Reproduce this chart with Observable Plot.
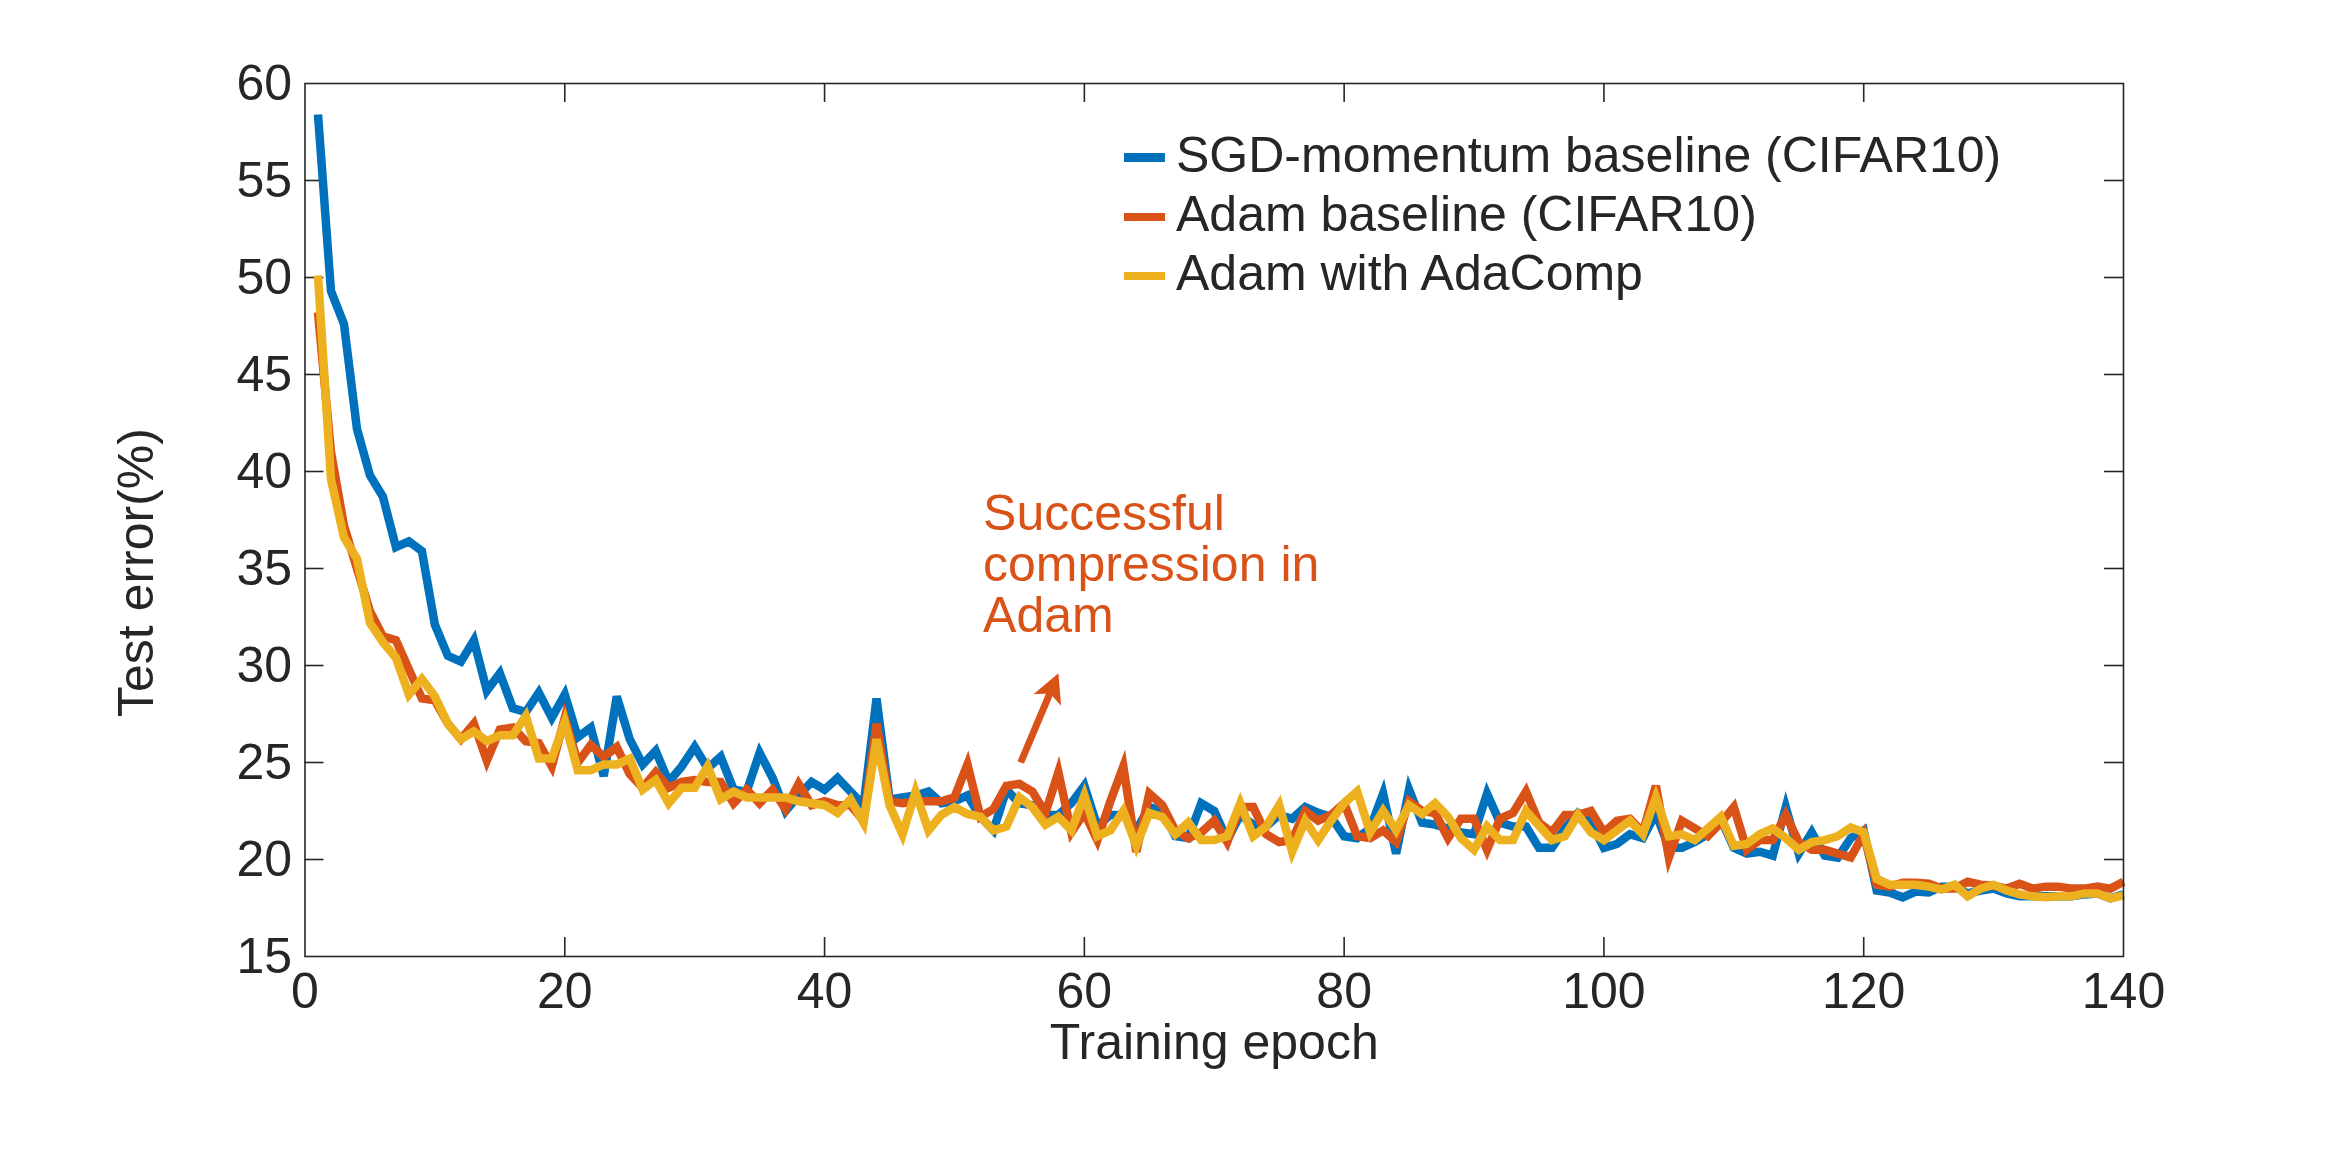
<!DOCTYPE html>
<html>
<head>
<meta charset="utf-8">
<script src="https://cdn.jsdelivr.net/npm/d3@7"></script>
<script src="https://cdn.jsdelivr.net/npm/@observablehq/plot@0.6"></script>
<style>
  body { margin: 0; background: #fff; }
  #wrap { position: relative; width: 2346px; height: 1156px; font-family: "Liberation Sans", Arial, Helvetica, sans-serif; color: #262626; }
  .leg-row { position: absolute; left: 1124px; height: 50px; line-height: 50px; font-size: 50px; white-space: nowrap; }
  .leg-sw { position: absolute; left: 0; width: 41px; height: 8.5px; }
  .leg-tx { position: absolute; left: 52px; top: 0; }
</style>
</head>
<body>
<div id="wrap"></div>
<script>
// ---------- data ----------
const epochs = d3.range(1, 141);

const sgdMomentum = [
  58.4, 49.3, 47.6, 42.2, 39.8, 38.7, 36.1, 36.4, 35.9, 32.1,
  30.5, 30.2, 31.3, 28.7, 29.6, 27.8, 27.6, 28.6, 27.3, 28.5,
  26.3, 26.8, 24.3, 28.4, 26.2, 24.9, 25.6, 24.0, 24.8, 25.8,
  24.7, 25.3, 23.6, 23.5, 25.5, 24.2, 22.5, 23.3, 24.0, 23.6,
  24.2, 23.5, 22.8, 28.3, 23.1, 23.2, 23.3, 23.5, 22.9, 23.0,
  23.3, 22.2, 21.5, 23.6, 22.9, 22.8, 22.3, 22.3, 22.9, 23.8,
  21.7, 22.3, 22.3, 21.5, 22.7, 22.5, 21.2, 21.1, 22.9, 22.5,
  21.0, 22.3, 21.8, 21.7, 22.3, 22.1, 22.7, 22.4, 22.2, 21.2,
  21.1, 21.6, 23.4, 20.3, 23.6, 21.9, 21.8, 21.6, 21.4, 21.3,
  23.4, 21.9, 21.7, 21.7, 20.6, 20.6, 21.6, 22.4, 21.9, 20.6,
  20.8, 21.3, 21.1, 22.4, 20.6, 20.6, 20.9, 21.3, 22.1, 20.6,
  20.3, 20.4, 20.2, 22.7, 20.3, 21.4, 20.2, 20.1, 21.1, 21.5,
  18.4, 18.3, 18.05, 18.35, 18.3, 18.6, 18.6, 18.25, 18.4, 18.5,
  18.25, 18.1, 18.1, 18.1, 18.1, 18.1, 18.2, 18.25, 18.0, 18.2
];

const adamBaseline = [
  48.2, 41.0, 37.2, 35.0, 32.8, 31.5, 31.3, 29.8, 28.3, 28.2,
  27.0, 26.2, 27.0, 25.1, 26.7, 26.8, 26.1, 26.0, 24.8, 27.3,
  25.0, 25.9, 25.3, 25.8, 24.4, 23.7, 24.5, 23.7, 24.0, 24.1,
  24.0, 24.0, 22.9, 23.6, 22.9, 23.6, 22.6, 23.9, 22.8, 23.0,
  22.8, 22.8, 22.0, 27.0, 23.0, 22.9, 23.0, 23.0, 23.0, 23.2,
  24.9, 22.2, 22.6, 23.8, 23.9, 23.5, 22.4, 24.5, 21.4, 22.4,
  21.0, 23.0, 24.8, 20.4, 23.4, 22.8, 21.5, 21.1, 21.4, 22.0,
  20.9, 22.7, 22.7, 21.3, 20.9, 21.0, 22.5, 22.0, 22.3, 22.9,
  21.2, 21.1, 21.5, 20.9, 23.0, 22.5, 22.4, 21.1, 22.1, 22.1,
  20.5, 22.1, 22.4, 23.5, 21.9, 21.4, 22.3, 22.3, 22.5, 21.4,
  22.0, 22.1, 21.4, 23.8, 20.1, 22.0, 21.6, 21.2, 21.9, 22.7,
  20.5, 21.0, 21.0, 22.3, 20.9, 20.5, 20.5, 20.3, 20.1, 21.3,
  18.7, 18.6, 18.8, 18.8, 18.75, 18.5, 18.5, 18.85, 18.7, 18.65,
  18.5, 18.75, 18.5, 18.6, 18.6, 18.5, 18.5, 18.6, 18.5, 18.85
];

const adamAdaComp = [
  50.1, 39.6, 36.6, 35.5, 32.2, 31.2, 30.4, 28.5, 29.3, 28.4,
  27.0, 26.2, 26.6, 26.1, 26.4, 26.4, 27.4, 25.2, 25.2, 27.1,
  24.6, 24.6, 24.9, 24.9, 25.2, 23.6, 24.1, 22.9, 23.7, 23.7,
  24.8, 23.1, 23.5, 23.2, 23.2, 23.2, 23.2, 23.0, 22.9, 22.8,
  22.4, 23.1, 21.9, 26.2, 22.8, 21.3, 23.5, 21.5, 22.3, 22.7,
  22.35, 22.2, 21.5, 21.7, 23.2, 22.7, 21.8, 22.2, 21.5, 23.3,
  21.2, 21.5, 22.5, 20.7, 22.4, 22.2, 21.3, 21.9, 21.0, 21.0,
  21.2, 22.9, 21.2, 21.7, 22.8, 20.4, 22.0, 21.0, 22.0, 22.9,
  23.5, 21.4, 22.5, 21.5, 22.8, 22.35, 22.9, 22.2, 21.1, 20.5,
  21.7, 21.0, 21.0, 22.5, 21.75, 21.0, 21.2, 22.3, 21.4, 21.0,
  21.5, 22.0, 21.3, 23.2, 21.2, 21.3, 21.0, 21.6, 22.2, 20.7,
  20.8, 21.3, 21.6, 21.1, 20.5, 20.9, 21.0, 21.2, 21.65, 21.4,
  19.0, 18.7, 18.7, 18.7, 18.6, 18.45, 18.7, 18.1, 18.5, 18.7,
  18.4, 18.2, 18.1, 18.05, 18.1, 18.1, 18.25, 18.25, 18.0, 18.15
];

const seriesNames = ["SGD-momentum baseline (CIFAR10)", "Adam baseline (CIFAR10)", "Adam with AdaComp"];
const seriesColors = ["#0072BD", "#D95319", "#EDB120"];
const xTicks = [0, 20, 40, 60, 80, 100, 120, 140];
const yTicks = [15, 20, 25, 30, 35, 40, 45, 50, 55, 60];
const xLabel = "Training epoch";
const yLabel = "Test error(%)";
const annotation = [{x: 52.2, y: 38.87, text: "Successful\ncompression in\nAdam"}];
const arrowData = [{x1: 55.1, y1: 25.0, x2: 58.0, y2: 29.6}];

// ---------- layout ----------
const W = 2346, H = 1156;
const mL = 304.5, mR = 223, mT = 83, mB = 200;
const innerW = W - mL - mR, innerH = H - mT - mB;
const tickLen = 19;
const axisColor = "#262626";
const fontFamily = '"Liberation Sans", Arial, Helvetica, sans-serif';

const allSeries = [sgdMomentum, adamBaseline, adamAdaComp];
const lineMarks = allSeries.map((vals, k) =>
  Plot.line(epochs.map((e, i) => ({epoch: e, value: vals[i]})), {
    x: "epoch", y: "value", stroke: seriesColors[k], strokeWidth: 8.5,
    strokeLinejoin: "miter", strokeMiterlimit: 4, strokeLinecap: "butt"
  })
);

const arrowHead = {
  draw(ctx) {
    ctx.moveTo(0, 0);
    ctx.lineTo(-15, 29);
    ctx.lineTo(0, 22);
    ctx.lineTo(15, 29);
    ctx.closePath();
  }
};

const chart = Plot.plot({
  width: W, height: H,
  marginLeft: mL, marginRight: mR, marginTop: mT, marginBottom: mB,
  style: {fontFamily, fontSize: "50px", color: axisColor, background: "white", overflow: "visible"},
  x: {domain: [0, 140]},
  y: {domain: [15, 60]},
  marks: [
    Plot.axisX({ticks: xTicks, tickSize: 0, tickPadding: 16, fontSize: 50, label: null, tickFormat: d => d}),
    Plot.axisY({ticks: yTicks, tickSize: 0, tickPadding: 13, fontSize: 50, label: null, tickFormat: d => d}),
    Plot.ruleX(xTicks.slice(1, -1), {stroke: axisColor, strokeWidth: 1.6, insetTop: innerH - tickLen}),
    Plot.ruleX(xTicks.slice(1, -1), {stroke: axisColor, strokeWidth: 1.6, insetBottom: innerH - tickLen}),
    Plot.ruleY(yTicks.slice(1, -1), {stroke: axisColor, strokeWidth: 1.6, insetRight: innerW - tickLen}),
    Plot.ruleY(yTicks.slice(1, -1), {stroke: axisColor, strokeWidth: 1.6, insetLeft: innerW - tickLen}),
    ...lineMarks,
    Plot.frame({stroke: axisColor, strokeWidth: 1.6}),
    Plot.arrow(arrowData, {x1: "x1", y1: "y1", x2: "x2", y2: "y2", stroke: seriesColors[1], strokeWidth: 7,
      headLength: 0, insetEnd: 20, strokeLinecap: "butt"}),
    Plot.dot(arrowData, {x: "x2", y: "y2", symbol: arrowHead, fill: seriesColors[1], stroke: "none", rotate: 22.5, r: 10}),
    Plot.text(annotation, {x: "x", y: "y", text: "text", textAnchor: "start", lineAnchor: "top",
      lineHeight: 1.02, fontSize: 50, fill: seriesColors[1]}),
    Plot.text([xLabel], {frameAnchor: "bottom", dy: 67, lineAnchor: "top", text: d => d, fontSize: 50, fill: axisColor}),
    Plot.text([yLabel], {frameAnchor: "left", rotate: -90, dx: -168.5, dy: 52.5, lineAnchor: "middle",
      textAnchor: "middle", text: d => d, fontSize: 50, fill: axisColor})
  ]
});

const wrap = document.getElementById("wrap");
wrap.appendChild(chart);

// ---------- legend (overlay) ----------
const legendBaselines = [172, 231, 290];
const legendSwatchCenters = [157.5, 217, 276];
seriesNames.forEach((name, k) => {
  const row = document.createElement("div");
  row.className = "leg-row";
  row.style.top = (legendBaselines[k] - 42.3) + "px";
  const sw = document.createElement("div");
  sw.className = "leg-sw";
  sw.style.background = seriesColors[k];
  sw.style.top = (legendSwatchCenters[k] - (legendBaselines[k] - 42.3) - 4.25) + "px";
  const tx = document.createElement("div");
  tx.className = "leg-tx";
  tx.textContent = name;
  row.appendChild(sw);
  row.appendChild(tx);
  wrap.appendChild(row);
});
</script>
</body>
</html>
